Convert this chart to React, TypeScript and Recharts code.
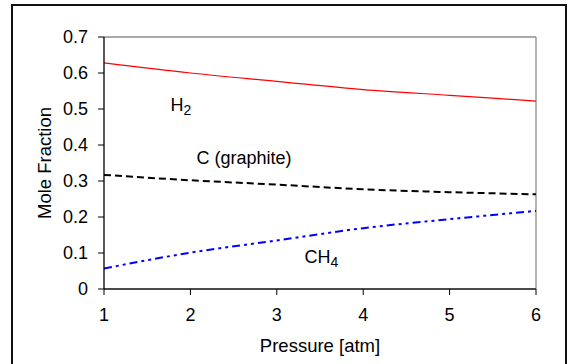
import React from 'react';
import { ComposedChart, Line, Scatter, XAxis, YAxis, ReferenceLine } from 'recharts';

const pressures = [1, 2, 3, 4, 5, 6];
const h2 = [0.628, 0.600, 0.577, 0.554, 0.538, 0.522];
const graphite = [0.317, 0.302, 0.290, 0.277, 0.269, 0.263];
const ch4 = [0.057, 0.101, 0.135, 0.169, 0.194, 0.217];
const xTicks = [1, 2, 3, 4, 5, 6];
const yTicks = [0, 0.1, 0.2, 0.3, 0.4, 0.5, 0.6, 0.7];

const annotations = [
  { p: 1.77, v: 0.494, main: 'H', sub: '2' },
  { p: 2.07, v: 0.347, main: 'C (graphite)', sub: '' },
  { p: 3.32, v: 0.071, main: 'CH', sub: '4' },
];

const table = pressures.map((p, i) => ({ p, h2: h2[i], c: graphite[i], ch4: ch4[i] }));

const FONT = '"Liberation Sans", Arial, sans-serif';

const AnnotationShape = (props: any) => {
  const { cx, cy, payload } = props;
  return (
    <text x={cx} y={cy} fontFamily={FONT} fontSize={18} fill="#000">
      {payload.main}
      {payload.sub ? (
        <tspan fontSize={14} dy={4}>{payload.sub}</tspan>
      ) : null}
    </text>
  );
};

export default function App() {
  return (
    <div style={{ position: 'absolute', left: 0, top: 0, width: 571, height: 364, overflow: 'hidden', background: '#fff' }}>
      <div
        style={{
          position: 'absolute',
          left: 11,
          top: 4,
          width: 552,
          height: 400,
          border: '2px solid #111',
        }}
      />
      <div style={{ position: 'absolute', left: 0, top: 0 }}>
        <ComposedChart
          width={571}
          height={364}
          data={table}
          margin={{ top: 37, right: 35, bottom: 0, left: 0 }}
        >
          <XAxis
            dataKey="p"
            type="number"
            domain={[1, 6]}
            ticks={xTicks}
            interval={0}
            tickSize={6}
            tickMargin={13}
            height={75}
            axisLine={{ stroke: '#4a4a4a', strokeWidth: 2 }}
            tickLine={{ stroke: '#000' }}
            tick={{ fill: '#000', fontSize: 18, fontFamily: FONT }}
            label={{
              content: (props: any) => {
                const vb = props.viewBox || {};
                return (
                  <text
                    x={vb.x + vb.width / 2}
                    y={vb.y + 63}
                    textAnchor="middle"
                    fontFamily={FONT}
                    fontSize={18.5}
                    fill="#000"
                  >
                    Pressure [atm]
                  </text>
                );
              },
            }}
          />
          <YAxis
            type="number"
            domain={[0, 0.7]}
            ticks={yTicks}
            interval={0}
            width={104}
            tickSize={6}
            tickMargin={10}
            tickFormatter={(v: number) => String(Number(v.toFixed(1)))}
            axisLine={{ stroke: '#000', strokeWidth: 1.3 }}
            tickLine={{ stroke: '#000' }}
            tick={{ fill: '#000', fontSize: 18, fontFamily: FONT }}
            label={{
              content: (props: any) => {
                const vb = props.viewBox || {};
                const cx = vb.x + 44;
                const cy = vb.y + vb.height / 2;
                return (
                  <text
                    x={cx}
                    y={cy}
                    transform={`rotate(-90, ${cx}, ${cy})`}
                    textAnchor="middle"
                    dominantBaseline="central"
                    fontFamily={FONT}
                    fontSize={18.5}
                    fill="#000"
                  >
                    Mole Fraction
                  </text>
                );
              },
            }}
          />
          <ReferenceLine y={0.7} stroke="#8c8c8c" strokeWidth={1.3} />
          <ReferenceLine x={6} stroke="#8c8c8c" strokeWidth={1.3} />
          <Line
            dataKey="h2"
            type="monotone"
            stroke="#ff0000"
            strokeWidth={1.2}
            dot={false}
            activeDot={false}
            isAnimationActive={false}
          />
          <Line
            dataKey="c"
            type="monotone"
            stroke="#000"
            strokeWidth={2}
            strokeDasharray="7 4"
            dot={false}
            activeDot={false}
            isAnimationActive={false}
          />
          <Line
            dataKey="ch4"
            type="monotone"
            stroke="#0000ff"
            strokeWidth={2}
            strokeDasharray="8 4 3 4 3 4"
            dot={false}
            activeDot={false}
            isAnimationActive={false}
          />
          <Scatter
            data={annotations}
            dataKey="v"
            shape={AnnotationShape}
            isAnimationActive={false}
          />
        </ComposedChart>
      </div>
    </div>
  );
}
